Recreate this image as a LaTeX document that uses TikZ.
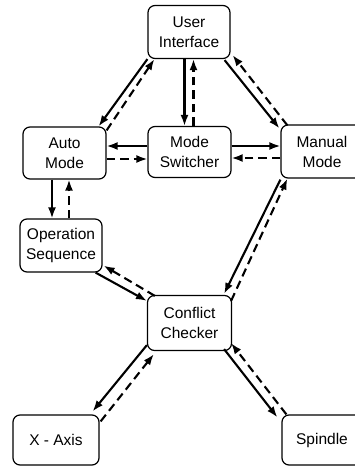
\documentclass[tikz,border=0pt]{standalone}
\usepackage{fontspec}
\setmainfont{Liberation Sans}
\usetikzlibrary{arrows.meta,calc}

\tikzset{
  module/.style={draw, line width=1.2pt, rounded corners=7pt, align=center,
    inner sep=0pt, font=\fontsize{15.5}{20}\selectfont},
  callflow/.style={line width=2.1pt, -{Latex[length=11pt,width=8pt]}},
  replyflow/.style={line width=2.1pt, dash pattern=on 8.5pt off 5pt,
    -{Latex[length=11pt,width=8pt]}},
}

\begin{document}
\begin{tikzpicture}[x=1pt,y=-1pt]
  \useasboundingbox (0,0) rectangle (355,469);
  \clip (0,0) rectangle (355,469);

  % modules
  \node[module, minimum width=82pt, minimum height=53pt] (ui) at (189,32) {User\\Interface};
  \node[module, minimum width=83pt, minimum height=52pt] (auto) at (64.5,153) {Auto\\Mode};
  \node[module, minimum width=83pt, minimum height=51pt] (ms) at (189.5,152) {Mode\\Switcher};
  \node[module, minimum width=82pt, minimum height=53pt] (man) at (322,151.5) {Manual\\Mode};
  \node[module, minimum width=82pt, minimum height=53pt] (ops) at (61,245.5) {Operation\\Sequence};
  \node[module, minimum width=84pt, minimum height=55pt] (cc) at (189.5,323) {Conflict\\Checker};
  \node[module, minimum width=86pt, minimum height=50pt] (xa) at (56,440) {X - Axis};
  \node[module, minimum width=80pt, minimum height=50pt] (sp) at (322,440) {Spindle};

  % user interface <-> auto mode
  \draw[callflow] (ui.south west) -- ($(auto.north east)+(-8,0)$);
  \draw[replyflow] ($(auto.north east)+(0,4)$) -- ($(ui.south west)+(7,0)$);

  % user interface <-> mode switcher
  \draw[callflow] ($(ui.south)+(-4.5,0)$) -- ($(ms.north)+(-5,0)$);
  \draw[replyflow] ($(ms.north)+(4,0)$) -- ($(ui.south)+(4.5,0)$);

  % user interface <-> manual mode
  \draw[callflow] ($(ui.south east)+(-6,1)$) -- ($(man.north west)+(-1,4)$);
  \draw[replyflow] ($(man.north west)+(7,1)$) -- ($(ui.south east)+(2,-4)$);

  % mode switcher <-> auto mode
  \draw[callflow] ($(ms.west)+(0,-6)$) -- ($(auto.east)+(0,-7)$);
  \draw[replyflow] ($(auto.east)+(0,6)$) -- ($(ms.west)+(0,7)$);

  % mode switcher <-> manual mode
  \draw[callflow] ($(ms.east)+(0,-6)$) -- ($(man.west)+(0,-5.5)$);
  \draw[replyflow] ($(man.west)+(0,6.5)$) -- ($(ms.east)+(0,6)$);

  % auto mode <-> operation sequence
  \draw[callflow] ($(auto.south)+(-12.5,0)$) -- ($(ops.north)+(-9,0)$);
  \draw[replyflow] ($(ops.north)+(8,0)$) -- ($(auto.south)+(4.5,0)$);

  % operation sequence <-> conflict checker
  \draw[callflow] ($(ops.south east)+(-7,0)$) -- ($(cc.north west)+(0,6)$);
  \draw[replyflow] ($(cc.north west)+(8,1)$) -- ($(ops.south east)+(1,-7)$);

  % manual mode <-> conflict checker
  \draw[callflow] ($(man.south west)+(0,1)$) -- ($(cc.north east)+(-8,-1)$);
  \draw[replyflow] ($(cc.north east)+(-1,6)$) -- ($(man.south west)+(7,0)$);

  % conflict checker <-> x-axis
  \draw[callflow] ($(cc.south west)+(0,-6)$) -- ($(xa.north east)+(-7,-3)$);
  \draw[replyflow] ($(xa.north east)+(1,7)$) -- ($(cc.south west)+(7,3)$);

  % conflict checker <-> spindle
  \draw[callflow] ($(cc.south east)+(-8,-2)$) -- ($(sp.north west)+(-4,3)$);
  \draw[replyflow] ($(sp.north west)+(5,0)$) -- ($(cc.south east)+(-1,-8)$);
\end{tikzpicture}
\end{document}
